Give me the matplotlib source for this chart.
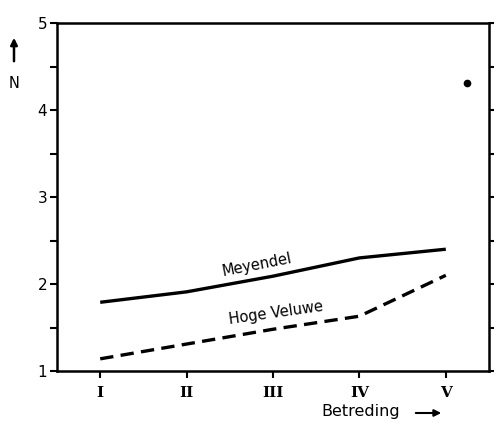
import matplotlib
matplotlib.use("Agg")
import matplotlib.pyplot as plt

# betreding classes and N values
stages = [1, 2, 3, 4, 5]
stage_labels = ["I", "II", "III", "IV", "V"]
meyendel = [1.79, 1.91, 2.09, 2.30, 2.40]
hoge_veluwe = [1.14, 1.31, 1.48, 1.63, 2.10]
stray_dot = (5.25, 4.31)

fig = plt.figure(figsize=(4.94, 4.23), dpi=100)
ax = fig.add_axes([0.1154, 0.1229, 0.8745, 0.8227])

ax.plot(stages, meyendel, color="black", linewidth=2.4, solid_capstyle="butt")
ax.plot(stages, hoge_veluwe, color="black", linewidth=2.4, dashes=(4, 2.2))
ax.plot(*stray_dot, marker="o", markersize=4.5, color="black")

ax.text(2.81, 2.22, "Meyendel", rotation=11, fontsize=10.5, ha="center", va="center")
ax.text(3.03, 1.67, "Hoge Veluwe", rotation=8, fontsize=10.5, ha="center", va="center")

ax.set_xlim(0.5, 5.5)
ax.set_ylim(1, 5)
ax.set_xticks(stages)
ax.set_xticklabels(stage_labels, family="DejaVu Serif", fontsize=11, fontweight="bold")
ax.set_yticks([1, 2, 3, 4, 5])
ax.set_yticks([1.5, 2.5, 3.5, 4.5], minor=True)
ax.tick_params(axis="y", which="both", direction="out", length=5, width=1.5,
               right=True, labelsize=11, pad=2)
ax.tick_params(axis="x", direction="out", length=5, width=1.5, pad=6)
for s in ax.spines.values():
    s.set_linewidth(1.8)

# axis titles with arrows
fig.text(14 / 494, 1 - 83 / 423, "N", ha="center", va="center", fontsize=10.5)
fig.add_artist(matplotlib.patches.FancyArrowPatch(
    (14 / 494, 1 - 64 / 423), (14 / 494, 1 - 35 / 423), transform=fig.transFigure,
    arrowstyle="-|>,head_length=4,head_width=2", linewidth=1.8, color="black"))
fig.text(361 / 494, 1 - 411 / 423, "Betreding", ha="center", va="center", fontsize=11.5)
fig.add_artist(matplotlib.patches.FancyArrowPatch(
    (413 / 494, 1 - 413 / 423), (444 / 494, 1 - 413 / 423), transform=fig.transFigure,
    arrowstyle="-|>,head_length=4,head_width=2", linewidth=1.5, color="black"))

fig.savefig("out.png", dpi=100)
